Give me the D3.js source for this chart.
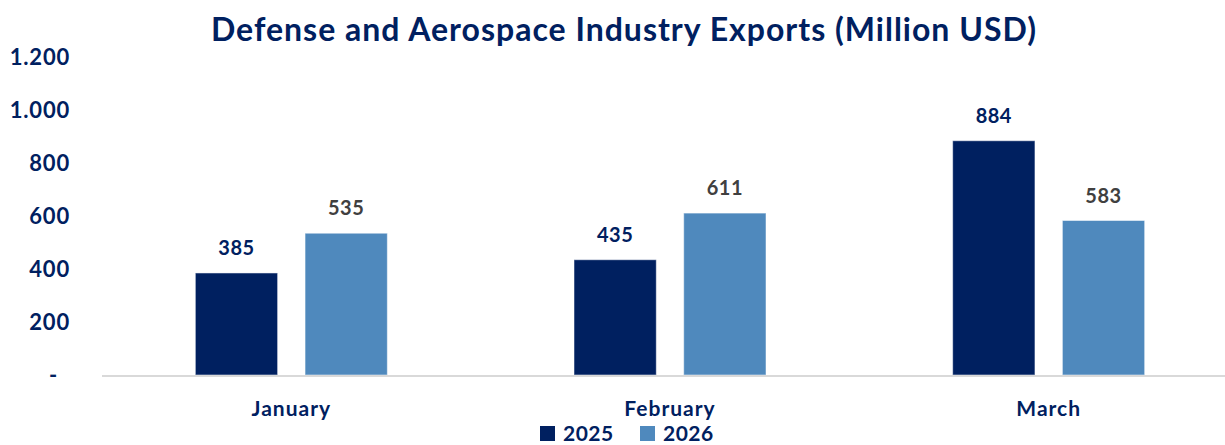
<!DOCTYPE html>
<html>
<head>
<meta charset="utf-8">
<script src="https://cdn.jsdelivr.net/npm/d3@7"></script>
<style>
  html, body { margin: 0; padding: 0; background: #fff; }
  svg { display: block; font-family: Lato, "Open Sans", sans-serif; font-weight: bold; }
</style>
</head>
<body>
<svg id="chart" width="1225" height="445"></svg>
<script>
// Monthly exports, million USD
const months = ["January", "February", "March"];
const years = ["2025", "2026"];
const values2025 = [385, 435, 884];
const values2026 = [535, 611, 583];
const yTicks = [0, 200, 400, 600, 800, 1000, 1200];

const colors = { "2025": "#002060", "2026": "#4f89bd" };
const labelColors = { "2025": "#002060", "2026": "#404040" };
const navy = "#002060";

const svg = d3.select("#chart");
const W = 1225;

const x = d3.scaleBand().domain(months).range([102, 1238]).padding(0);
const groupWidth = 192;
const xi = d3.scaleBand().domain(years).range([0, groupWidth]).paddingInner(24 / 192 * 2).paddingOuter(0);
const y = d3.scaleLinear().domain([0, 1200]).range([375, 57]);

const rows = months.map((m, i) => ({
  month: m,
  vals: [
    { year: "2025", value: values2025[i] },
    { year: "2026", value: values2026[i] }
  ]
}));

// Title
svg.append("text")
  .attr("x", 624).attr("y", 41)
  .attr("text-anchor", "middle")
  .attr("fill", navy)
  .style("font-size", "32px")
  .style("letter-spacing", "1px")
  .text("Defense and Aerospace Industry Exports (Million USD)");

// Y axis (labels only)
const fmt = v => v === 0 ? "-" : d3.format(",")(v).replace(/,/g, ".");
const yAxis = d3.axisLeft(y).tickValues(yTicks).tickFormat(fmt).tickSize(0).tickPadding(0);
const gy = svg.append("g").attr("transform", "translate(70,0)").call(yAxis);
gy.select(".domain").remove();
gy.selectAll("text")
  .attr("fill", navy)
  .style("font-family", "Lato, sans-serif")
  .style("font-weight", "bold")
  .style("font-size", "22px")
  .style("letter-spacing", "0.8px");
gy.selectAll(".tick").filter(d => d === 0).select("text").attr("x", -12);

// Bars
const groups = svg.append("g").selectAll("g").data(rows).join("g")
  .attr("transform", d => `translate(${x(d.month) + (x.bandwidth() - groupWidth) / 2},0)`);

groups.selectAll("rect").data(d => d.vals).join("rect")
  .attr("x", d => xi(d.year))
  .attr("width", xi.bandwidth())
  .attr("y", d => y(d.value))
  .attr("height", d => y(0) - y(d.value))
  .attr("fill", d => colors[d.year])
  .attr("stroke", "#ffffff")
  .attr("stroke-opacity", 0.5)
  .attr("stroke-width", 1);

groups.selectAll("text.val").data(d => d.vals).join("text")
  .attr("class", "val")
  .attr("x", d => xi(d.year) + xi.bandwidth() / 2)
  .attr("y", d => y(d.value) - 18)
  .attr("text-anchor", "middle")
  .attr("fill", d => labelColors[d.year])
  .style("font-size", "20px")
  .style("letter-spacing", "0.5px")
  .text(d => d.value);

// Baseline
svg.append("line")
  .attr("x1", 102).attr("x2", W)
  .attr("y1", y(0) + 1).attr("y2", y(0) + 1)
  .attr("stroke", "#d9d9d9").attr("stroke-width", 2);

// X axis labels
const xAxis = d3.axisBottom(x).tickSize(0).tickPadding(0);
const gx = svg.append("g").attr("transform", "translate(0,401)").call(xAxis);
gx.select(".domain").remove();
gx.selectAll("text")
  .attr("fill", navy)
  .style("font-family", "Lato, sans-serif")
  .style("font-weight", "bold")
  .style("font-size", "21px")
  .style("letter-spacing", "1px");

// Legend
const legendItems = [{ year: "2025", x: 540 }, { year: "2026", x: 640 }];
const lg = svg.append("g").selectAll("g").data(legendItems).join("g")
  .attr("transform", d => `translate(${d.x},426)`);
lg.append("rect").attr("width", 15).attr("height", 15).attr("fill", d => colors[d.year]);
lg.append("text")
  .attr("x", 23).attr("y", 15)
  .attr("fill", navy)
  .style("font-size", "21px")
  .style("letter-spacing", "0.5px")
  .text(d => d.year);
</script>
</body>
</html>
